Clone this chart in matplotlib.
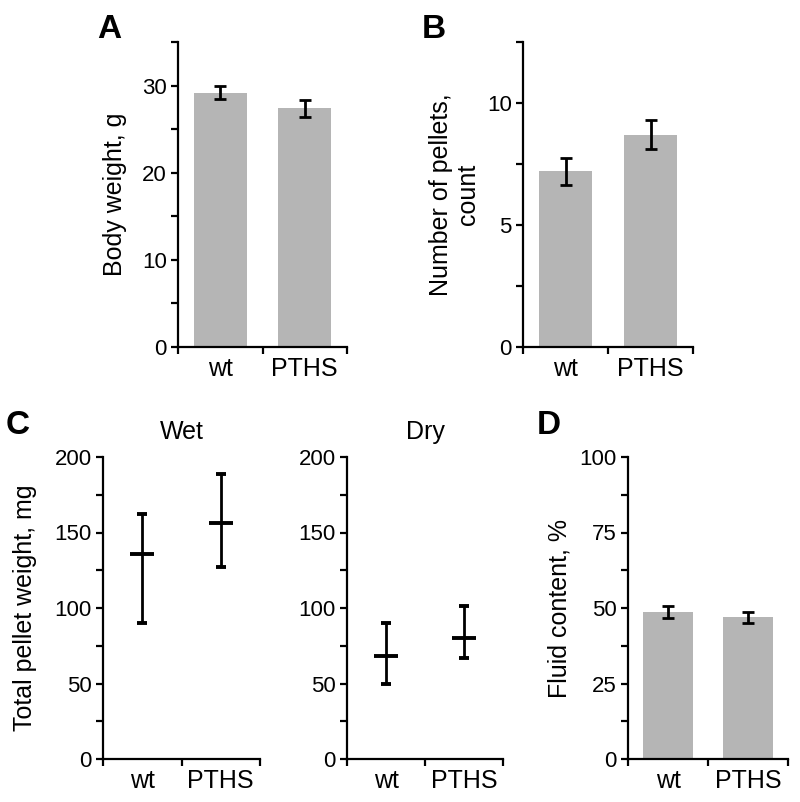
import numpy as np
import matplotlib
matplotlib.use("Agg")
import matplotlib.pyplot as plt
from matplotlib.ticker import MultipleLocator

plt.rcParams['font.family'] = ['Liberation Sans', 'DejaVu Sans']

groups = ['wt', 'PTHS']

# A: body weight (mean, sem)
body_weight = [29.2, 27.4]
body_weight_err = [0.7, 1.0]

# B: number of pellets
pellets = [7.2, 8.7]
pellets_err = [0.55, 0.6]

# C: total pellet weight, center line with lower/upper whisker
wet_mid = [136, 156]
wet_low = [90, 127]
wet_high = [162, 189]
dry_mid = [68, 80]
dry_low = [50, 67]
dry_high = [90, 101]

# D: fluid content
fluid = [48.6, 46.9]
fluid_err = [1.9, 1.8]

BAR_COLOR = '#b5b5b5'
W, H = 800, 802
fig = plt.figure(figsize=(W / 100, H / 100), dpi=100)


def px_axes(x0, y0, x1, y1):
    # pixel box (left, top, right, bottom) -> figure axes
    return fig.add_axes([x0 / W, 1 - y1 / H, (x1 - x0) / W, (y1 - y0) / H])


def style(ax, top, major, minor):
    for s in ['top', 'right']:
        ax.spines[s].set_visible(False)
    for s in ['left', 'bottom']:
        ax.spines[s].set_linewidth(1.6)
    ax.set_xlim(0, 2)
    ax.set_ylim(0, top)
    ax.yaxis.set_major_locator(MultipleLocator(major))
    ax.yaxis.set_minor_locator(MultipleLocator(minor))
    ax.set_xticks([0, 1, 2], ['', '', ''])
    ax.set_xticks([0.5, 1.5], groups, minor=True)
    ax.tick_params(axis='both', which='both', direction='out', length=5, width=1.6,
                   labelsize=16, pad=3)
    ax.tick_params(axis='x', which='minor', length=0, pad=7, labelsize=18)


def ylabel(ax, text, xfrac):
    ax.set_ylabel(text, fontsize=18)
    ax.yaxis.set_label_coords(xfrac, 0.5)


xpos = np.arange(len(groups)) + 0.5


def bar_panel(ax, vals, errs):
    ax.bar(xpos, vals, width=0.63, color=BAR_COLOR, zorder=1)
    ax.errorbar(xpos, vals, yerr=errs, fmt='none', ecolor='black', elinewidth=2,
                capsize=4, capthick=2, zorder=2)


# A
axA = px_axes(178, 42, 347, 347)
bar_panel(axA, body_weight, body_weight_err)
style(axA, 35, 10, 5)
ylabel(axA, 'Body weight, g', -0.30)

# B
axB = px_axes(523, 42, 693, 347)
bar_panel(axB, pellets, pellets_err)
style(axB, 12.5, 5, 2.5)
ylabel(axB, 'Number of pellets,\ncount', -0.25)


def range_panel(ax, mid, low, high):
    mid = np.array(mid)
    yerr = [mid - np.array(low), np.array(high) - mid]
    ax.errorbar(xpos, mid, yerr=yerr, fmt='_', color='black', markersize=17,
                markeredgewidth=2.8, elinewidth=2, capsize=3.5, capthick=2)


# C wet
axCw = px_axes(103, 457, 260, 759)
range_panel(axCw, wet_mid, wet_low, wet_high)
style(axCw, 200, 50, 25)
ylabel(axCw, 'Total pellet weight, mg', -0.42)
axCw.set_title('Wet', fontsize=18, pad=13)

# C dry
axCd = px_axes(347, 457, 503, 759)
range_panel(axCd, dry_mid, dry_low, dry_high)
style(axCd, 200, 50, 25)
axCd.set_title('Dry', fontsize=18, pad=13)

# D
axD = px_axes(628, 457, 788, 759)
bar_panel(axD, fluid, fluid_err)
style(axD, 100, 25, 12.5)
ylabel(axD, 'Fluid content, %', -0.35)

for letter, x, y in [('A', 97, 38), ('B', 422, 38), ('C', 6, 434), ('D', 537, 434)]:
    fig.text(x / W, 1 - y / H, letter, fontsize=24, fontweight='bold', va='baseline')

fig.savefig('out.png', dpi=100)
